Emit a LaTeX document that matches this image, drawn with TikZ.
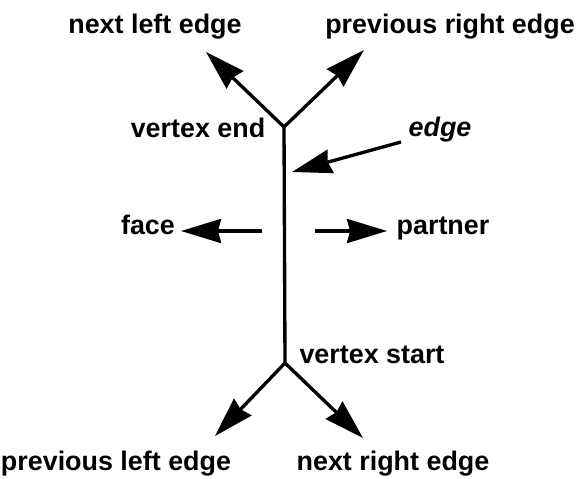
\documentclass[tikz,border=0pt]{standalone}
\usepackage{fontspec}
\setmainfont{Liberation Sans}
\usetikzlibrary{positioning,arrows.meta}

\begin{document}
\begin{tikzpicture}[x=0.02cm,y=-0.02cm,
  every node/.style={font=\fontsize{15.3}{18}\selectfont\bfseries,inner sep=0pt},
  lbl/.style={anchor=base},
  edgeline/.style={line width=1.9pt},
  arrow/.style={edgeline,-{Stealth[length=0.8cm,width=0.48cm,inset=0.06cm]}}]
\useasboundingbox (0,0) rectangle (581,479);
% the half edge and its two vertices
\coordinate (vend) at (284,127);
\coordinate (vstart) at (285,363);
\coordinate (nle) at (206,52);
\coordinate (pre) at (364,50);
\coordinate (ple) at (215,436);
\coordinate (nre) at (363,438);
\draw[edgeline] (vend) -- (vstart);
\foreach \a/\b in {vend/nle,vend/pre,vstart/ple,vstart/nre}
  \draw[arrow] (\a) -- (\b);
% labels
\node[lbl] (tnle) at (155,34) {next left edge};
\node[lbl] (tpre) at (450,34) {previous right edge};
\node[lbl] (tvend) at (198,138) {vertex end};
\node[lbl] (tedge) at (440,137) {\itshape edge};
\node[lbl] (tface) at (148,235) {face};
\node[lbl] (tpart) at (443,235) {partner};
\node[lbl] (tvstart) at (372,363) {vertex start};
\node[lbl] (tple) at (116,470) {previous left edge};
\node[lbl] (tnre) at (393,470) {next right edge};
% pointers
\coordinate (etail) at (401,142);
\coordinate (ehead) at (292,172);
\coordinate (ftail) at (262,231);
\coordinate (fhead) at (181,231);
\coordinate (ptail) at (315,231);
\coordinate (phead) at (387,231);
\draw[arrow] (etail) -- (ehead);
\draw[arrow] (ftail) -- (fhead);
\draw[arrow] (ptail) -- (phead);
\end{tikzpicture}
\end{document}
